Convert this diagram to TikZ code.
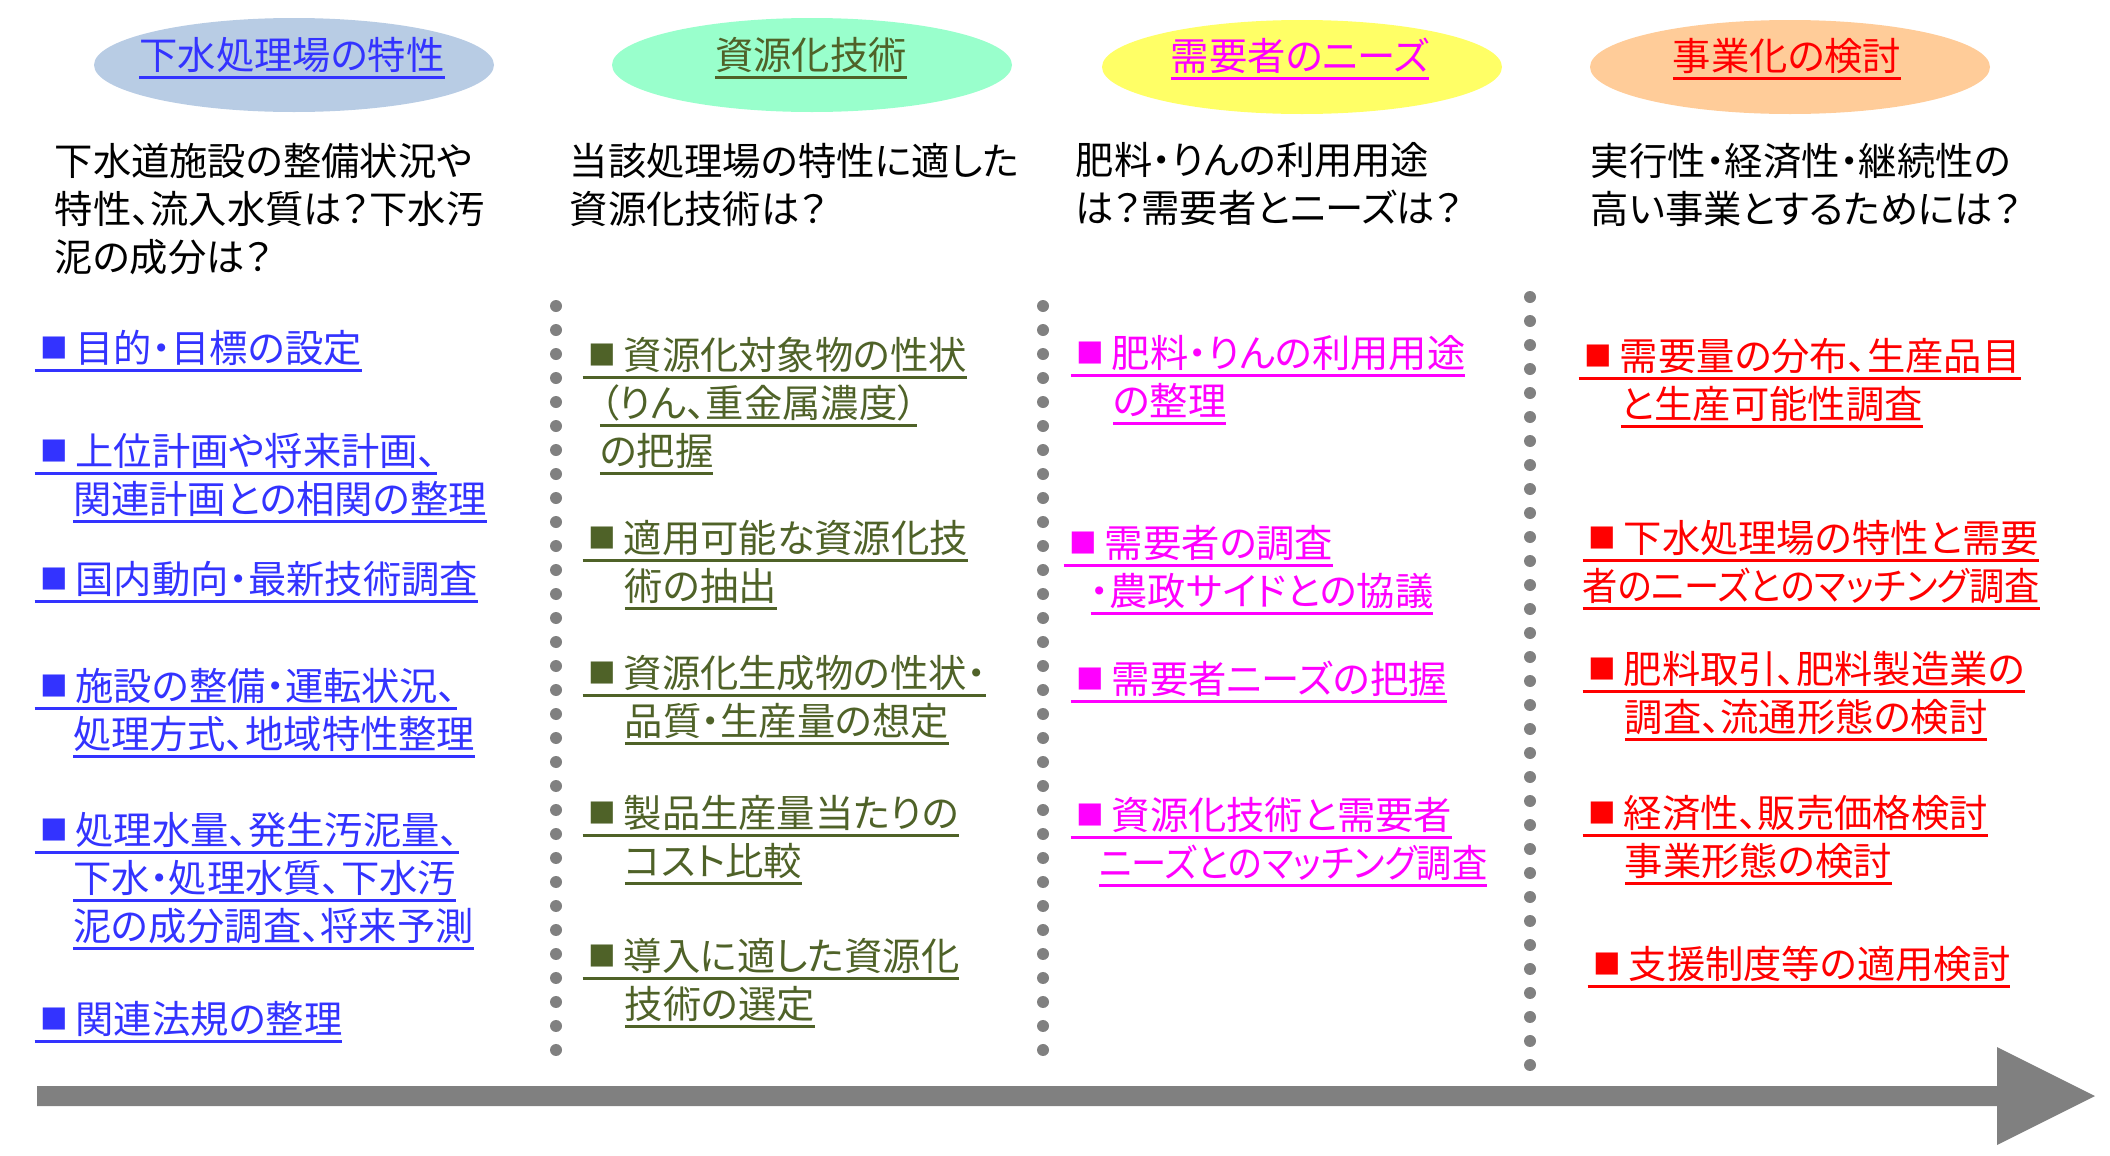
\documentclass[tikz,border=0pt]{standalone}
\usepackage{fontspec}
\newfontfamily\jpfont{Noto Sans CJK JP}[RawFeature=+palt]
\definecolor{sewfill}{RGB}{184,204,228}
\definecolor{sewtext}{RGB}{51,51,255}
\definecolor{techfill}{RGB}{153,255,204}
\definecolor{techtext}{RGB}{79,98,40}
\definecolor{needfill}{RGB}{255,255,102}
\definecolor{needtext}{RGB}{255,0,255}
\definecolor{bizfill}{RGB}{255,204,153}
\definecolor{biztext}{RGB}{255,0,0}
\definecolor{dotgray}{RGB}{128,128,128}
\tikzset{every picture/.style={/utils/exec={\jpfont}}}
\usetikzlibrary{shapes.geometric}
\newsavebox\undlbox
\newcommand{\undl}[1]{\sbox\undlbox{#1}\rlap{\rule[-2.8pt]{\wd\undlbox}{0.8pt}}\usebox\undlbox}
\newcommand{\sqmark}{\hspace{0.15em}\raisebox{0.1em}{\scalebox{0.72}{■}}\hspace{0.2em}}

\begin{document}
\begin{tikzpicture}[x=0.1mm, y=-0.1mm,
  jp/.style={font=\fontsize{10.9pt}{13.6pt}\selectfont},
  head/.style={ellipse, minimum width=40mm, minimum height=9.4mm, inner sep=0pt},
  headttl/.style={jp, anchor=base, inner sep=0pt},
  question/.style={jp, anchor=base west, align=left, inner sep=0pt},
  task/.style={jp, anchor=base west, align=left, inner sep=0pt}]
  \useasboundingbox (0,0) rectangle (2110,1156);

  % column heads
  \node [head, fill=sewfill] (sewage) at (294,65) {};
  \node [head, fill=techfill] (tech) at (812,65) {};
  \node [head, fill=needfill] (needs) at (1302,67) {};
  \node [head, fill=bizfill] (biz) at (1790,67) {};
  \node [headttl, text=sewtext] (sewagettl) at (292,69) {\undl{下水処理場の特性}};
  \node [headttl, text=techtext] (techttl) at (811,69) {\undl{資源化技術}};
  \node [headttl, text=needtext] (needsttl) at (1300,70) {\undl{需要者のニーズ}};
  \node [headttl, text=biztext] (bizttl) at (1787,70) {\undl{事業化の検討}};

  % (multi-line nodes sit on the baseline of their last line)
  \node [question] (sewageq) at (54,271) {下水道施設の整備状況や\\特性、流入水質は？下水汚\\泥の成分は？};
  \node [question] (techq) at (569,223) {当該処理場の特性に適した\\資源化技術は？};
  \node [question] (needsq) at (1075,222) {肥料・りんの利用用途\\は？需要者とニーズは？};
  \node [question] (bizq) at (1590,223) {実行性・経済性・継続性の\\高い事業とするためには？};

  % separators
  \foreach \x/\ya/\yb in {556/306/1072, 1043/306/1072, 1530/297/1085}
    \draw [dotgray, line width=1.2mm, line cap=round, dash pattern=on 0pt off 2.4mm] (\x,\ya) -- (\x,\yb);

  % time arrow
  \fill [dotgray] (37,1086) -- (1997,1086) -- (1997,1047) -- (2095,1096) -- (1997,1145) -- (1997,1106) -- (37,1106) -- cycle;

  % sewage plant
  \node [task, text=sewtext] (sewage1) at (34,362) {\undl{\sqmark 目的・目標の設定}};
  \node [task, text=sewtext] (sewage2) at (34,513) {\undl{\sqmark 上位計画や将来計画、}\\\hspace*{1em}\undl{関連計画との相関の整理}};
  \node [task, text=sewtext] (sewage3) at (34,593) {\undl{\sqmark 国内動向・最新技術調査}};
  \node [task, text=sewtext] (sewage4) at (34,748) {\undl{\sqmark 施設の整備・運転状況、}\\\hspace*{1em}\undl{処理方式、地域特性整理}};
  \node [task, text=sewtext] (sewage5) at (34,940) {\undl{\sqmark 処理水量、発生汚泥量、}\\\hspace*{1em}\undl{下水・処理水質、下水汚}\\\hspace*{1em}\undl{泥の成分調査、将来予測}};
  \node [task, text=sewtext] (sewage6) at (34,1033) {\undl{\sqmark 関連法規の整理}};

  % technology
  \node [task, text=techtext] (tech1) at (582,465) {\undl{\sqmark 資源化対象物の性状}\\\hspace*{0.45em}\undl{（りん、重金属濃度）}\\\hspace*{0.45em}\undl{の把握}};
  \node [task, text=techtext] (tech2) at (582,600) {\undl{\sqmark 適用可能な資源化技}\\\hspace*{1.1em}\undl{術の抽出}};
  \node [task, text=techtext] (tech3) at (582,735) {\undl{\sqmark 資源化生成物の性状・}\\\hspace*{1.1em}\undl{品質・生産量の想定}};
  \node [task, text=techtext] (tech4) at (582,875) {\undl{\sqmark 製品生産量当たりの}\\\hspace*{1.1em}\undl{コスト比較}};
  \node [task, text=techtext] (tech5) at (582,1018) {\undl{\sqmark 導入に適した資源化}\\\hspace*{1.1em}\undl{技術の選定}};

  % needs
  \node [task, text=needtext] (needs1) at (1070,415) {\undl{\sqmark 肥料・りんの利用用途}\\\hspace*{1.1em}\undl{の整理}};
  \node [task, text=needtext] (needs2) at (1063,605) {\undl{\sqmark 需要者の調査}\\\hspace*{0.7em}\undl{・農政サイドとの協議}};
  \node [task, text=needtext] (needs3) at (1070,693) {\undl{\sqmark 需要者ニーズの把握}};
  \node [task, text=needtext] (needs4) at (1070,877) {\undl{\sqmark 資源化技術と需要者}\\\hspace*{0.75em}\undl{\scalebox{0.92}[1]{ニーズとのマッチング調査}}};

  % business
  \node [task, text=biztext] (biz1) at (1578,418) {\undl{\sqmark 需要量の分布、生産品目}\\\hspace*{1.1em}\undl{と生産可能性調査}};
  \node [task, text=biztext] (biz2) at (1582,600) {\undl{\sqmark 下水処理場の特性と需要}\\\undl{\scalebox{0.92}[1]{者のニーズとのマッチング調査}}};
  \node [task, text=biztext] (biz3) at (1582,731) {\undl{\sqmark 肥料取引、肥料製造業の}\\\hspace*{1.1em}\undl{調査、流通形態の検討}};
  \node [task, text=biztext] (biz4) at (1582,875) {\undl{\sqmark 経済性、販売価格検討}\\\hspace*{1.1em}\undl{事業形態の検討}};
  \node [task, text=biztext] (biz5) at (1587,978) {\undl{\sqmark 支援制度等の適用検討}};
\end{tikzpicture}
\end{document}
